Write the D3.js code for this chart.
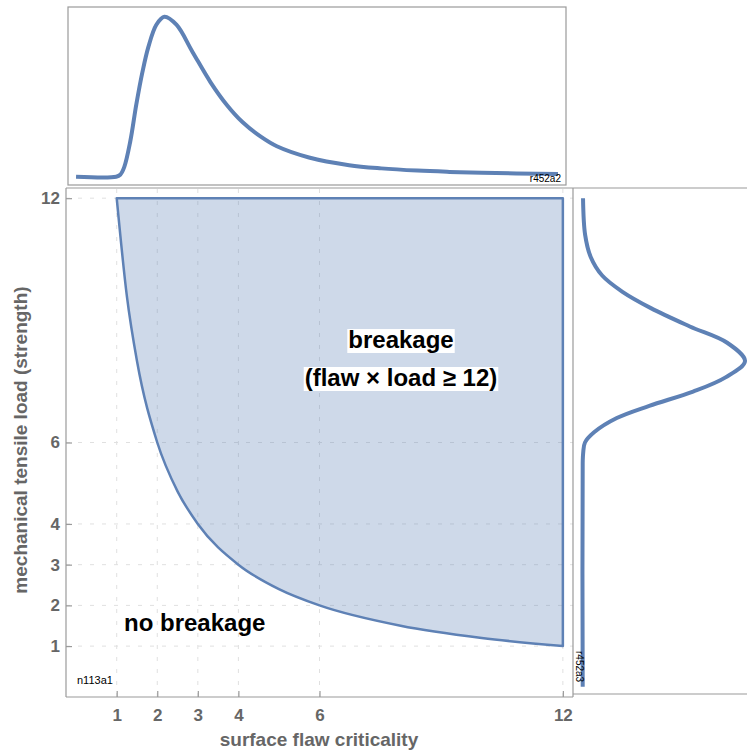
<!DOCTYPE html>
<html>
<head>
<meta charset="utf-8">
<script src="https://cdn.jsdelivr.net/npm/d3@7"></script>
<style>
  body { margin: 0; background: #fff; }
  text { font-family: "Liberation Sans", Arial, sans-serif; }
</style>
</head>
<body>
<svg id="chart"></svg>
<script>
const width = 747, height = 751;

// Breakage boundary (flaw x load = 12)
const boundaryFlaw = [1, 1.25, 1.5, 2, 2.5, 3, 4, 5, 6, 8, 10, 12];
const boundaryLoad = [12, 9.6, 8, 6, 4.8, 4, 3, 2.4, 2, 1.5, 1.2, 1];
const topLoad = 12;

// Marginal density of flaw criticality (top panel)
const flawValues = [0, 1, 1.1, 1.2, 1.35, 1.5, 1.65, 1.8, 2.0, 2.2, 2.5, 2.9, 3.35, 3.75, 4.15, 4.6, 5.0, 5.8, 6.8, 7.6, 8.5, 9.3, 10.1, 12];
const flawDensity = [0, 0, 0.012, 0.06, 0.22, 0.45, 0.65, 0.81, 0.95, 1.0, 0.95, 0.78, 0.59, 0.45, 0.34, 0.25, 0.19, 0.12, 0.072, 0.052, 0.038, 0.03, 0.024, 0.017];

// Marginal density of tensile load (right panel)
const loadValues = [0, 5.5, 5.75, 6.0, 6.25, 6.6, 6.9, 7.25, 7.6, 8.0, 8.45, 8.85, 9.3, 9.7, 10.1, 10.55, 11.1, 12];
const loadDensity = [0, 0, 0.003, 0.014, 0.07, 0.21, 0.41, 0.68, 0.88, 1.0, 0.89, 0.66, 0.42, 0.245, 0.12, 0.05, 0.015, 0.002];

const ticks = [1, 2, 3, 4, 6, 12];

const blue = "#5e81b5";
const frameColor = "#9a9a9a";
const tickColor = "#666";

const svg = d3.select("#chart")
    .attr("width", width)
    .attr("height", height);

// Main scales
const xScale = d3.scaleLinear().domain([-0.25, 12.25]).range([66, 573]);
const yScale = d3.scaleLinear().domain([-0.25, 12.25]).range([697, 188]);

// Top panel scales
const topX = d3.scaleLinear().domain([-0.2, 12.2]).range([68, 566]);
const topY = d3.scaleLinear().domain([0, 1]).range([176.7, 16.7]);

// Right panel scale
const rightX = d3.scaleLinear().domain([0, 1]).range([582.7, 745]);

// Grid lines
const grid = svg.append("g")
    .attr("stroke", "#e0e0e0")
    .attr("stroke-width", 1)
    .attr("stroke-dasharray", "4,8");

grid.selectAll(".vgrid")
    .data(ticks)
    .enter().append("line")
    .attr("x1", d => xScale(d)).attr("x2", d => xScale(d))
    .attr("y1", yScale.range()[0]).attr("y2", yScale.range()[1]);

grid.selectAll(".hgrid")
    .data(ticks)
    .enter().append("line")
    .attr("y1", d => yScale(d)).attr("y2", d => yScale(d))
    .attr("x1", xScale.range()[0]).attr("x2", xScale.range()[1]);

// Breakage region
const boundary = boundaryFlaw.map((f, i) => ({ x: f, y: boundaryLoad[i] }));
const area = d3.area()
    .x(d => xScale(d.x))
    .y0(yScale(topLoad))
    .y1(d => yScale(d.y))
    .curve(d3.curveMonotoneX);

svg.append("path")
    .datum(boundary)
    .attr("d", area)
    .attr("fill", blue)
    .attr("fill-opacity", 0.3)
    .attr("stroke", blue)
    .attr("stroke-width", 2.5)
    .attr("stroke-linejoin", "round");

// Frames
const frames = svg.append("g")
    .attr("stroke", frameColor)
    .attr("stroke-width", 1.2)
    .attr("fill", "none");

frames.append("rect").attr("x", 68).attr("y", 7).attr("width", 498).attr("height", 178);
frames.append("line").attr("x1", 66).attr("x2", 747).attr("y1", 188).attr("y2", 188);
frames.append("line").attr("x1", 66).attr("x2", 66).attr("y1", 188).attr("y2", 697);
frames.append("line").attr("x1", 66).attr("x2", 573).attr("y1", 697).attr("y2", 697);
frames.append("line").attr("x1", 573).attr("x2", 573).attr("y1", 188).attr("y2", 697);
frames.append("line").attr("x1", 573).attr("x2", 747).attr("y1", 694).attr("y2", 694);

// Axes with inward ticks
const xAxis = svg.append("g")
    .attr("transform", `translate(0, ${yScale.range()[0]})`)
    .call(d3.axisBottom(xScale).tickValues(ticks).tickSize(-6).tickPadding(12));

const yAxis = svg.append("g")
    .attr("transform", `translate(${xScale.range()[0]}, 0)`)
    .call(d3.axisLeft(yScale).tickValues(ticks).tickSize(-6).tickPadding(6));

[xAxis, yAxis].forEach(ax => {
    ax.select(".domain").remove();
    ax.selectAll(".tick line").attr("stroke", frameColor).attr("stroke-width", 1.2);
    ax.selectAll(".tick text")
        .attr("fill", tickColor)
        .style("font-size", "17px")
        .style("font-weight", "bold")
        .style("font-family", "'Liberation Sans', Arial, sans-serif");
});

// Axis titles
svg.append("text")
    .attr("x", 319)
    .attr("y", 746)
    .attr("text-anchor", "middle")
    .attr("fill", tickColor)
    .style("font-size", "19px")
    .style("font-weight", "bold")
    .text("surface flaw criticality");

svg.append("text")
    .attr("transform", "translate(27, 440) rotate(-90)")
    .attr("text-anchor", "middle")
    .attr("fill", tickColor)
    .style("font-size", "19px")
    .style("font-weight", "bold")
    .text("mechanical tensile load (strength)");

// Top marginal
const flawData = flawValues.map((v, i) => ({ v: v, d: flawDensity[i] }));
svg.append("path")
    .datum(flawData)
    .attr("d", d3.line().x(d => topX(d.v)).y(d => topY(d.d)).curve(d3.curveCatmullRom.alpha(0.5)))
    .attr("fill", "none")
    .attr("stroke", blue)
    .attr("stroke-width", 4)
    .attr("stroke-linecap", "butt");

// Right marginal
const loadData = loadValues.map((v, i) => ({ v: v, d: loadDensity[i] }));
svg.append("path")
    .datum(loadData)
    .attr("d", d3.line().x(d => rightX(d.d)).y(d => yScale(d.v)).curve(d3.curveCatmullRom.alpha(0.5)))
    .attr("fill", "none")
    .attr("stroke", blue)
    .attr("stroke-width", 4);

// Small panel tags
svg.append("text")
    .attr("x", 561).attr("y", 182)
    .attr("text-anchor", "end")
    .style("font-size", "10px")
    .text("r452a2");

svg.append("text")
    .attr("transform", "translate(576, 651) rotate(90)")
    .style("font-size", "10px")
    .text("r452a3");

svg.append("text")
    .attr("x", 77).attr("y", 684)
    .style("font-size", "11px")
    .text("n113a1");

// Region labels
svg.append("text")
    .attr("x", 124).attr("y", 631)
    .style("font-size", "24px")
    .style("font-weight", "bold")
    .text("no breakage");

const labels = ["breakage", "(flaw \u00d7 load \u2265 12)"];
const labelY = [348, 386];
labels.forEach((t, i) => {
    const g = svg.append("g");
    const txt = g.append("text")
        .attr("x", 401).attr("y", labelY[i])
        .attr("text-anchor", "middle")
        .style("font-size", "24px")
        .style("font-weight", "bold")
        .text(t);
    const bb = txt.node().getBBox();
    g.insert("rect", "text")
        .attr("x", bb.x - 1).attr("y", bb.y + 3)
        .attr("width", bb.width + 2).attr("height", bb.height - 3)
        .attr("fill", "white");
});
</script>
</body>
</html>
